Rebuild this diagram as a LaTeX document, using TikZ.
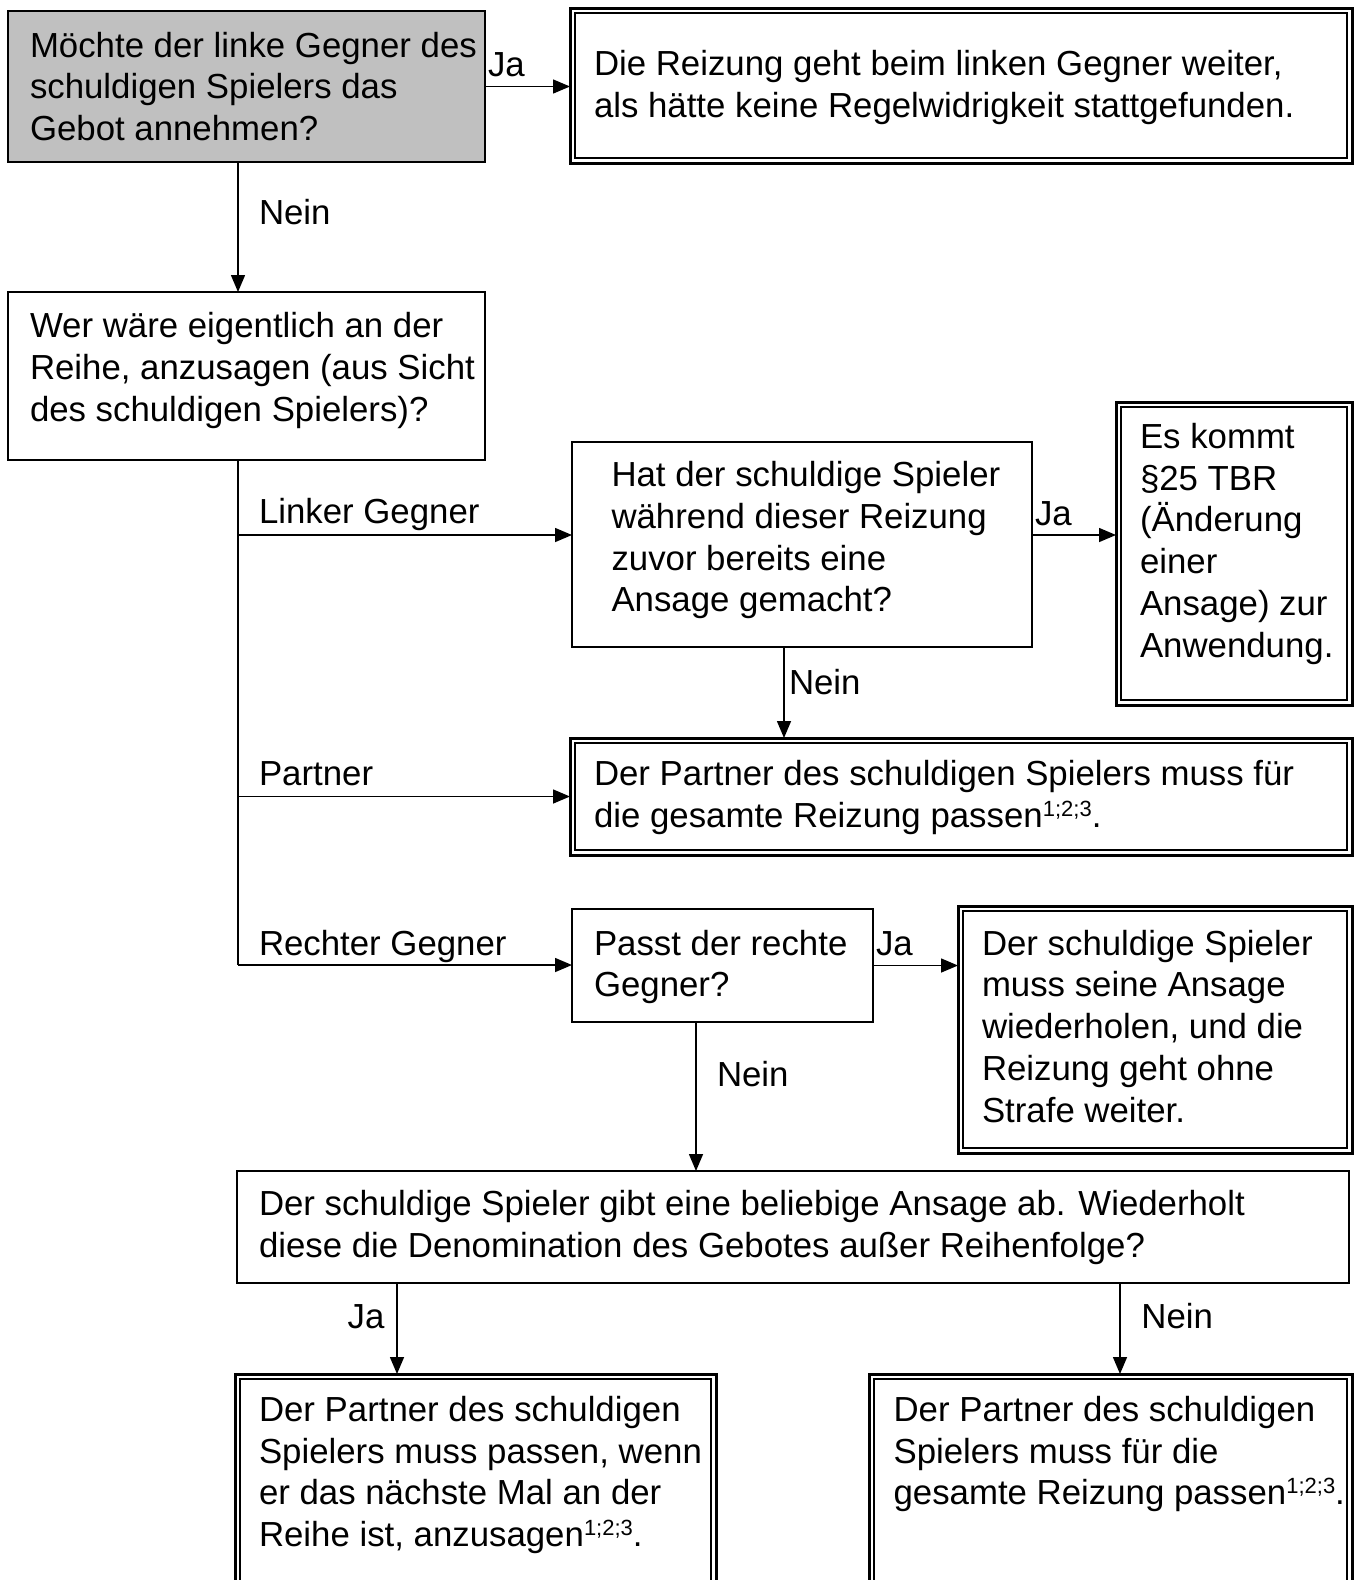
\documentclass[tikz,border=0pt]{standalone}
\usepackage{fontspec}
\setmainfont{Liberation Sans}
\usetikzlibrary{arrows.meta,calc}
\definecolor{boxgray}{RGB}{192,192,192}
\newcommand\mfs{\fontsize{34.8}{41.8}\selectfont}
\newcommand\fnref[1]{\raisebox{0.33em}{\fontsize{22}{22}\selectfont #1}}
\begin{document}
\begin{tikzpicture}[x=1pt,y=-1pt,
  boxs/.style={draw, line width=2pt, inner sep=0pt, outer sep=0pt, anchor=north west},
  dbox/.style={draw, line width=3pt, inner sep=0pt, outer sep=0pt, anchor=north west},
  txt/.style={inner sep=0pt, outer sep=0pt, anchor=base west, font=\mfs, yshift=-2pt},
  lbl/.style={inner sep=0pt, outer sep=0pt, anchor=base west, font=\mfs, yshift=-2pt},
  arr/.style={line width=1.5pt, -{Triangle[length=17pt,width=14pt]}},
  ln/.style={line width=1.5pt},
  inner/.style={line width=1.5pt}]
\fill[white] (0,0) rectangle (1359,1580);
\useasboundingbox (0,0) rectangle (1359,1580);

% boxes
\node[boxs, fill=boxgray, minimum width=477pt, minimum height=151pt] (a) at (8,11) {};
\node[dbox, minimum width=782pt, minimum height=155pt] (b) at (570,8) {};
\node[boxs, minimum width=477pt, minimum height=168pt] (c) at (8,292) {};
\node[boxs, minimum width=460pt, minimum height=205pt] (d) at (572,442) {};
\node[dbox, minimum width=236pt, minimum height=303pt] (e) at (1116,402) {};
\node[dbox, minimum width=782pt, minimum height=117pt] (f) at (570,738) {};
\node[boxs, minimum width=301pt, minimum height=113pt] (g) at (572,909) {};
\node[dbox, minimum width=394pt, minimum height=247pt] (h) at (958,906) {};
\node[boxs, minimum width=1112pt, minimum height=112pt] (i) at (237,1171) {};
\node[dbox, minimum width=481pt, minimum height=266pt] (j) at (235,1374) {};
\node[dbox, minimum width=483pt, minimum height=266pt] (k) at (869,1374) {};

\foreach \n in {b,e,f,h,j,k}
  \draw[inner] ([shift={(5,5)}]\n.north west) rectangle ([shift={(-5,-5)}]\n.south east);

% texts
\node[txt] (at) at (30,55) {\vtop{\hbox{Möchte der linke Gegner des}\hbox{schuldigen Spielers das}\hbox{Gebot annehmen?}}};
\node[txt] (bt) at (594,73.5) {\vtop{\hbox{Die Reizung geht beim linken Gegner weiter,}\hbox{als hätte keine Regelwidrigkeit stattgefunden.}}};
\node[txt] (ct) at (30,335.4) {\vtop{\hbox{Wer wäre eigentlich an der}\hbox{Reihe, anzusagen (aus Sicht}\hbox{des schuldigen Spielers)?}}};
\node[txt] (dt) at (611.5,484.5) {\vtop{\hbox{Hat der schuldige Spieler}\hbox{während dieser Reizung}\hbox{zuvor bereits eine}\hbox{Ansage gemacht?}}};
\node[txt] (et) at (1140,446.2) {\vtop{\hbox{Es kommt}\hbox{§25 TBR}\hbox{(Änderung}\hbox{einer}\hbox{Ansage) zur}\hbox{Anwendung.}}};
\node[txt] (ft) at (594,783.7) {\vtop{\hbox{Der Partner des schuldigen Spielers muss für}\hbox{die gesamte Reizung passen\fnref{1;2;3}.}}};
\node[txt] (gt) at (594,953) {\vtop{\hbox{Passt der rechte}\hbox{Gegner?}}};
\node[txt] (ht) at (982,953) {\vtop{\hbox{Der schuldige Spieler}\hbox{muss seine Ansage}\hbox{wiederholen, und die}\hbox{Reizung geht ohne}\hbox{Strafe weiter.}}};
\node[txt] (it) at (259,1213.9) {\vtop{\hbox{Der schuldige Spieler gibt eine beliebige Ansage ab. Wiederholt}\hbox{diese die Denomination des Gebotes außer Reihenfolge?}}};
\node[txt] (jt) at (259,1419.3) {\vtop{\hbox{Der Partner des schuldigen}\hbox{Spielers muss passen, wenn}\hbox{er das nächste Mal an der}\hbox{Reihe ist, anzusagen\fnref{1;2;3}.}}};
\node[txt] (kt) at (893.6,1419.3) {\vtop{\hbox{Der Partner des schuldigen}\hbox{Spielers muss für die}\hbox{gesamte Reizung passen\fnref{1;2;3}.}}};

% helper coordinates
\coordinate (trunk) at (238,965);
\coordinate (yL) at (0,535);
\coordinate (xDF) at (784,0);
\coordinate (xGI) at (696,0);
\coordinate (xIJ) at (397,0);
\coordinate (xIK) at (1120,0);

% connectors
\draw[arr] (a.east) -- (a.east -| b.west);
\draw[arr] (a.south -| trunk) -- (c.north -| trunk);
\draw[ln] (c.south -| trunk) -- (trunk);
\draw[arr] (trunk |- yL) -- (d.west |- yL);
\draw[arr] (trunk |- f.west) -- (f.west);
\draw[arr] (trunk) -- (trunk -| g.west);
\draw[arr] (d.east |- yL) -- (e.west |- yL);
\draw[arr] (d.south -| xDF) -- (f.north -| xDF);
\draw[arr] (g.east) -- (g.east -| h.west);
\draw[arr] (g.south -| xGI) -- (i.north -| xGI);
\draw[arr] (i.south -| xIJ) -- (j.north -| xIJ);
\draw[arr] (i.south -| xIK) -- (k.north -| xIK);

% labels
\node[lbl] (l1) at (488,74) {Ja};
\node[lbl] (l2) at (259,222.6) {Nein};
\node[lbl] (l3) at (259,521.8) {Linker Gegner};
\node[lbl] (l4) at (259,783.7) {Partner};
\node[lbl] (l5) at (259,953) {Rechter Gegner};
\node[lbl] (l6) at (1035,523) {Ja};
\node[lbl] (l7) at (789,692) {Nein};
\node[lbl] (l8) at (876,953) {Ja};
\node[lbl] (l9) at (717,1084) {Nein};
\node[lbl] (l10) at (347.6,1326.7) {Ja};
\node[lbl] (l11) at (1141.4,1326.7) {Nein};
\end{tikzpicture}
\end{document}
